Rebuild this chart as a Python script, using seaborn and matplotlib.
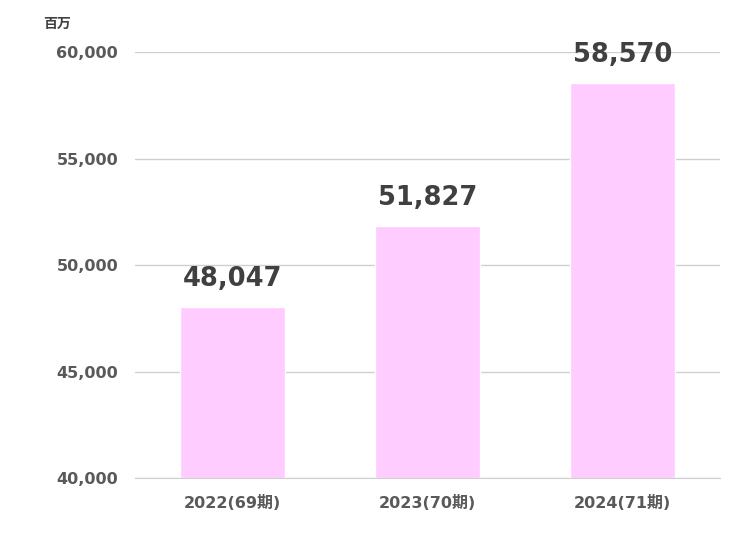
import matplotlib
matplotlib.use("Agg")
import matplotlib.pyplot as plt
import seaborn as sns

years = ["2022(69期)", "2023(70期)", "2024(71期)"]
values = [48047, 51827, 58570]

sns.set_style("white")
plt.rcParams['font.family'] = ['DejaVu Sans', 'Noto Sans CJK JP']

fig = plt.figure(figsize=(7.45, 5.33), dpi=100)
ax = fig.add_axes([0.181, 0.103, 0.785, 0.799])
sns.barplot(x=years, y=values, color="#FFCCFF", width=0.54, saturation=1, ax=ax, zorder=2)

ax.set_ylim(40000, 60000)
ax.set_yticks(range(40000, 60001, 5000))
ax.set_yticklabels([f"{v:,}" for v in range(40000, 60001, 5000)])
ax.grid(axis="y", color="#D0D0D0", linewidth=1, zorder=0)
for s in ["top", "right", "left"]:
    ax.spines[s].set_visible(False)
ax.spines["bottom"].set_color("#D0D0D0")
ax.tick_params(axis="both", length=0, labelsize=11.5, colors="#595959", pad=12)
for lab in ax.get_xticklabels() + ax.get_yticklabels():
    lab.set_fontweight("bold")

for i, v in enumerate(values):
    ax.text(i, v + 700, f"{v:,}", ha="center", va="bottom", fontsize=18.5,
            fontweight="bold", color="#404040")

fig.text(0.058, 0.955, "百万", fontsize=10, fontweight="bold", color="#404040",
         va="center", family=['Noto Sans CJK JP'])
fig.savefig("out.png", dpi=100)
